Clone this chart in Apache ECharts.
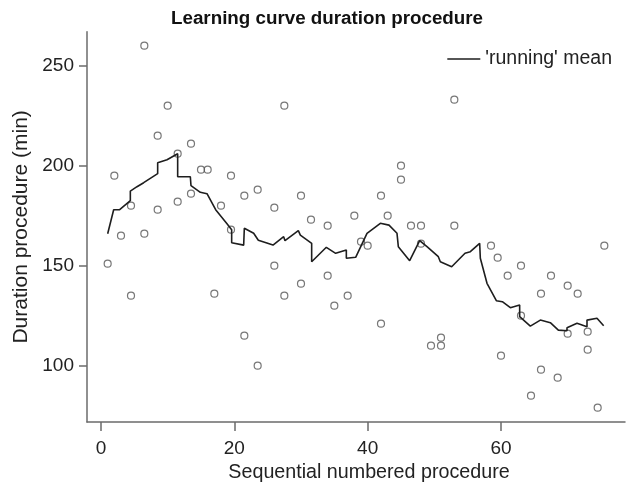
<!DOCTYPE html>
<html>
<head>
<meta charset="utf-8">
<script src="https://cdn.jsdelivr.net/npm/echarts@6/dist/echarts.min.js"></script>
<style>
  html, body { margin: 0; padding: 0; background: #fff; }
  #chart { width: 630px; height: 491px; }
</style>
</head>
<body>
<div id="chart"></div>
<script>
// observed durations per procedure
var procedureNo = [1, 2, 3, 4.5, 4.5, 6.5, 6.5, 8.5, 8.5, 10, 11.5, 11.5, 13.5, 13.5, 15, 16, 17, 18,
  19.5, 19.5, 21.5, 21.5, 23.5, 23.5, 26, 26, 27.5, 27.5, 30, 30, 31.5, 34, 34, 35, 37, 38, 39, 40,
  42, 42, 43, 45, 45, 46.5, 48, 48, 49.5, 51, 51, 53, 53, 58.5, 59.5, 60, 61, 63, 63, 64.5, 66, 66,
  67.5, 68.5, 70, 70, 71.5, 73, 73, 74.5, 75.5];
var duration = [151, 195, 165, 180, 135, 260, 166, 215, 178, 230, 206, 182, 211, 186, 198, 198, 136, 180,
  195, 168, 185, 115, 188, 100, 179, 150, 230, 135, 185, 141, 173, 170, 145, 130, 135, 175, 162, 160,
  185, 121, 175, 200, 193, 170, 170, 161, 110, 110, 114, 233, 170, 160, 154, 105, 145, 150, 125, 85, 136, 98,
  145, 94, 140, 116, 136, 117, 108, 79, 160];

// 'running' mean line
var meanNo = [1, 1.9, 2.8, 4.4, 4.4, 5.4, 6.4, 8.5, 8.5, 9.9, 11.5, 11.5, 13.4, 13.5, 14.9, 15.9, 17.2, 18.9,
  19.6, 19.6, 21.4, 21.5, 22.9, 23.6, 25.8, 27.4, 27.6, 29.6, 29.9, 31.6, 31.6, 33.8, 35.2, 36.8, 36.8,
  38.2, 39.9, 41.9, 43.2, 44.4, 44.6, 46.3, 47.8, 48.9, 50.6, 50.9, 52.6, 54.6, 55.4, 56.8, 56.9, 57.9,
  59.3, 60.2, 61.4, 62.8, 62.8, 64.4, 65.9, 67.4, 68.6, 69.9, 69.9, 71.4, 72.9, 72.9, 74.4, 75.4];
var meanDuration = [166, 178, 178, 182.5, 187.3, 189.5, 191.5, 196, 201.5, 203, 206, 194.5, 194.5, 190, 186.7, 186, 178, 171,
  168, 161.5, 160.3, 168.7, 166.2, 162.7, 160.3, 164.5, 162.5, 167.5, 165.3, 161.2, 152, 159.2, 156.2, 157.8, 153.7,
  154.2, 166.2, 171.2, 170.3, 166.2, 159.5, 152.5, 162.5, 159.5, 154.5, 152, 149.5, 156.2, 157, 161.2, 153.7, 141.2,
  132.5, 132, 129, 130.3, 124.5, 119.8, 122.8, 121.5, 117.8, 117.5, 119, 121.2, 119.5, 122.8, 123.7, 120];

var xTicks = [0, 20, 40, 60];
var yTicks = [100, 150, 200, 250];

var font = '"Liberation Sans", Arial, Helvetica, sans-serif';
var axisColor = '#6b6b6b';
var textColor = '#222';

var chart = echarts.init(document.getElementById('chart'), null, { renderer: 'canvas' });

var option = {
  animation: false,
  backgroundColor: '#fff',
  textStyle: { fontFamily: font },
  title: {
    text: 'Learning curve duration procedure',
    left: 166,
    top: 4,
    textStyle: { fontSize: 18.8, fontWeight: 'bold', color: '#111', fontFamily: font }
  },
  legend: {
    data: ["'running' mean"],
    icon: 'rect',
    right: 13,
    top: 44,
    itemWidth: 33,
    itemHeight: 1.6,
    itemStyle: { color: '#1e1e1e' },
    textStyle: { fontSize: 19.5, color: textColor, fontFamily: font }
  },
  grid: { left: 87, right: 5, top: 31.7, bottom: 69 },
  xAxis: {
    type: 'value',
    min: -2.1,
    max: 78.6,
    splitLine: { show: false },
    axisLine: { show: true, onZero: false, lineStyle: { color: axisColor, width: 1.5 } },
    axisTick: { show: true, customValues: xTicks, length: 9, lineStyle: { color: axisColor, width: 1.5 } },
    axisLabel: { customValues: xTicks, fontSize: 19, color: textColor, margin: 17, fontFamily: font },
    name: 'Sequential numbered procedure',
    nameLocation: 'middle',
    nameGap: 37,
    nameTextStyle: { fontSize: 19.7, color: textColor, fontFamily: font, padding: [0, 0, 0, 26] }
  },
  yAxis: {
    type: 'value',
    min: 71.85,
    max: 267,
    splitLine: { show: false },
    axisLine: { show: true, onZero: false, lineStyle: { color: axisColor, width: 1.5 } },
    axisTick: { show: true, customValues: yTicks, length: 8, lineStyle: { color: axisColor, width: 1.5 } },
    axisLabel: { customValues: yTicks, fontSize: 19, color: textColor, margin: 13, fontFamily: font },
    name: 'Duration procedure (min)',
    nameLocation: 'middle',
    nameGap: 43,
    nameTextStyle: { fontSize: 21, color: textColor, fontFamily: font }
  },
  series: [
    {
      name: 'duration',
      type: 'scatter',
      symbol: 'circle',
      symbolSize: 7,
      itemStyle: { color: 'rgba(255,255,255,0)', borderColor: '#555', borderWidth: 1.2 },
      data: procedureNo.map(function (p, i) { return [p, duration[i]]; })
    },
    {
      name: "'running' mean",
      type: 'line',
      symbol: 'none',
      lineStyle: { color: '#1e1e1e', width: 1.6 },
      itemStyle: { color: '#1e1e1e' },
      data: meanNo.map(function (p, i) { return [p, meanDuration[i]]; })
    }
  ]
};

chart.setOption(option);
</script>
</body>
</html>
